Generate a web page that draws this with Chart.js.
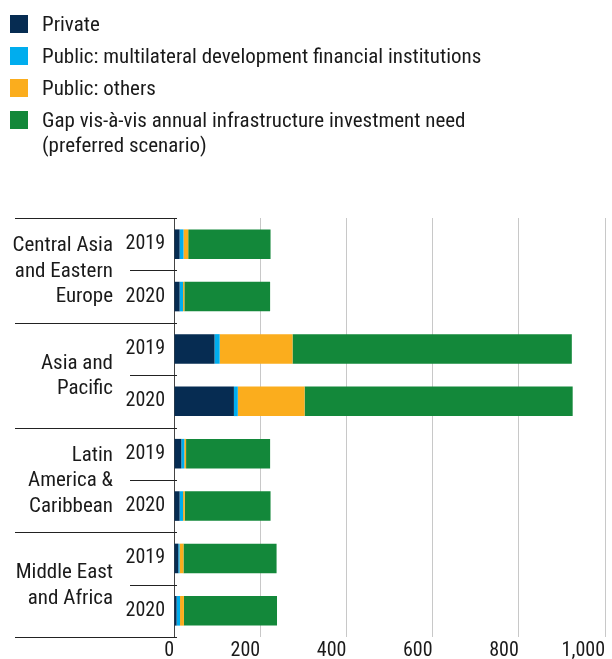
<!DOCTYPE html>
<html>
<head>
<meta charset="utf-8">
<script src="https://cdn.jsdelivr.net/npm/chart.js@4/dist/chart.umd.min.js"></script>
<style>
  body { margin: 0; background: #fff; font-family: "Liberation Sans Narrow", "Roboto Condensed", "Arial Narrow", sans-serif; }
  #wrap { position: relative; width: 612px; height: 659px; }
  #chart { position: absolute; left: 0; top: 0; }
  #legend { position: absolute; left: 10px; top: 11.5px; font-size: 21px; line-height: 25px; color: #1a1a1a; }
  .item { display: flex; align-items: flex-start; margin-bottom: 7px; }
  .box { width: 18px; height: 18px; margin-top: 3.5px; margin-right: 14px; flex: none; }
</style>
</head>
<body>
<div id="wrap">
  <canvas id="chart" width="612" height="659"></canvas>
  <div id="legend"></div>
</div>
<script>
const regions = [
  ['Central Asia', 'and Eastern', 'Europe'],
  ['Asia and', 'Pacific'],
  ['Latin', 'America &', 'Caribbean'],
  ['Middle East', 'and Africa']
];
const years = ['2019', '2020', '2019', '2020', '2019', '2020', '2019', '2020'];
const seriesNames = [
  'Private',
  'Public: multilateral development financial institutions',
  'Public: others',
  'Gap vis-à-vis annual infrastructure investment need\n(preferred scenario)'
];
const privateVals = [13, 13, 94, 139, 17, 13, 10, 6];
const mdfiVals = [9, 8, 12, 9, 7, 8, 3, 8];
const otherVals = [11, 3, 169, 155, 4, 4, 9, 9];
const gapVals = [191, 199, 648, 622, 195, 199, 216, 216];
const xTicks = [0, 200, 400, 600, 800, 1000];
const colors = ['#062c52', '#00adee', '#fbad1d', '#13883a'];

const FONT = '"Liberation Sans Narrow", "Roboto Condensed", "Arial Narrow", sans-serif';

// legend in HTML (last entry needs two lines)
const legendEl = document.getElementById('legend');
seriesNames.forEach((name, i) => {
    const row = document.createElement('div');
    row.className = 'item';
    const box = document.createElement('div');
    box.className = 'box';
    box.style.background = colors[i];
    const txt = document.createElement('div');
    txt.innerHTML = name.split('\n').join('<br>');
    row.appendChild(box);
    row.appendChild(txt);
    legendEl.appendChild(row);
});

// region labels and separator lines on the left
const groupPlugin = {
    id: 'groups',
    afterDraw(chart) {
        const ctx = chart.ctx;
        const y = chart.scales.y;
        const area = chart.chartArea;
        const step = y.getPixelForValue(1) - y.getPixelForValue(0);
        ctx.save();
        ctx.strokeStyle = '#222';
        ctx.lineWidth = 1;
        // long lines: top of each group and bottom
        for (let g = 0; g <= regions.length; g++) {
            const py = Math.round(y.getPixelForValue(g * 2) - step / 2) + 0.5;
            ctx.beginPath();
            ctx.moveTo(15, py);
            ctx.lineTo(area.left + 3, py);
            ctx.stroke();
        }
        // short lines between the years
        for (let g = 0; g < regions.length; g++) {
            const py = Math.round(y.getPixelForValue(g * 2) + step / 2) + 0.5;
            ctx.beginPath();
            ctx.moveTo(130, py);
            ctx.lineTo(area.left + 3, py);
            ctx.stroke();
        }
        ctx.fillStyle = '#1a1a1a';
        ctx.font = '21px ' + FONT;
        ctx.textAlign = 'right';
        ctx.textBaseline = 'middle';
        const lh = 25.5;
        regions.forEach((lines, g) => {
            const cy = (y.getPixelForValue(g * 2) + y.getPixelForValue(g * 2 + 1)) / 2;
            const y0 = cy - (lines.length - 1) * lh / 2 + 1;
            lines.forEach((t, k) => ctx.fillText(t, 113, y0 + k * lh));
        });
        ctx.restore();
    }
};

const valueLists = [privateVals, mdfiVals, otherVals, gapVals];

new Chart(document.getElementById('chart'), {
    type: 'bar',
    data: {
        labels: years,
        datasets: seriesNames.map((name, i) => ({
            label: name,
            data: valueLists[i],
            backgroundColor: colors[i],
            borderWidth: 0,
            barPercentage: 0.565,
            categoryPercentage: 1.0
        }))
    },
    options: {
        indexAxis: 'y',
        responsive: false,
        animation: false,
        devicePixelRatio: 1,
        layout: { padding: { top: 218, left: 0, right: 7, bottom: 0 } },
        plugins: {
            legend: { display: false },
            tooltip: { enabled: false }
        },
        scales: {
            x: {
                stacked: true,
                min: 0,
                max: 1000,
                afterFit: (s) => { s.height = 22; },
                afterBuildTicks: (s) => { s.ticks = xTicks.map(v => ({ value: v })); },
                grid: { color: '#c8c8c8', lineWidth: 1, drawTicks: false },
                border: { display: false },
                ticks: {
                    padding: 2,
                    align: 'end',
                    color: '#1a1a1a',
                    font: { family: FONT, size: 20 },
                    callback: (v) => Number(v).toLocaleString('en-US')
                }
            },
            y: {
                stacked: true,
                afterFit: (s) => { s.width = 174; },
                grid: { display: false, drawTicks: false },
                border: { display: true, color: '#444', width: 1 },
                ticks: {
                    padding: 9,
                    color: '#1a1a1a',
                    font: { family: FONT, size: 20 }
                }
            }
        }
    },
    plugins: [groupPlugin]
});
</script>
</body>
</html>
